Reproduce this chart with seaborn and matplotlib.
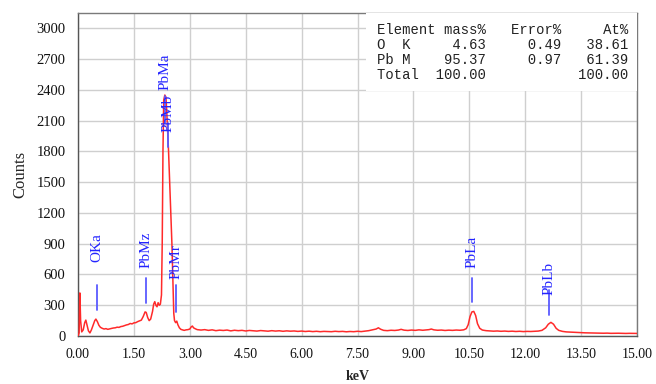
import numpy as np
import pandas as pd
import matplotlib
matplotlib.use("Agg")
import matplotlib.pyplot as plt
import seaborn as sns

# ---- spectrum data ----
energy_kev = [
    0.00, 0.03, 0.05, 0.07, 0.10, 0.14, 0.18, 0.21, 0.24, 0.28, 0.32, 0.36, 0.41, 0.45, 0.48,
    0.52, 0.56, 0.60, 0.65, 0.70, 0.75, 0.80, 0.85, 0.90, 0.95, 1.00, 1.05, 1.10, 1.15, 1.20,
    1.25, 1.30, 1.35, 1.40, 1.45, 1.50, 1.55, 1.60, 1.65, 1.70, 1.75, 1.80, 1.83, 1.87, 1.91,
    1.95, 2.00, 2.03, 2.06, 2.09, 2.12, 2.15, 2.18, 2.21, 2.24, 2.26, 2.28, 2.30, 2.33, 2.36,
    2.38, 2.41, 2.43, 2.46, 2.49, 2.52, 2.55, 2.57, 2.59, 2.62, 2.65, 2.68, 2.72, 2.76, 2.80,
    2.85, 2.90, 2.95, 3.00, 3.04, 3.07, 3.10, 3.15, 3.20, 3.30, 3.40, 3.50, 3.60, 3.70, 3.80,
    3.90, 4.00, 4.10, 4.20, 4.30, 4.40, 4.50, 4.60, 4.70, 4.80, 4.90, 5.00, 5.10, 5.20, 5.30,
    5.40, 5.50, 5.60, 5.70, 5.80, 5.90, 6.00, 6.10, 6.20, 6.30, 6.40, 6.50, 6.60, 6.70, 6.80,
    6.90, 7.00, 7.10, 7.20, 7.30, 7.40, 7.50, 7.60, 7.70, 7.80, 7.90, 8.00, 8.06, 8.12, 8.20,
    8.30, 8.40, 8.50, 8.60, 8.67, 8.75, 8.85, 8.95, 9.05, 9.15, 9.25, 9.35, 9.42, 9.48, 9.55,
    9.65, 9.75, 9.85, 9.95, 10.05, 10.15, 10.25, 10.35, 10.42, 10.47, 10.52, 10.57, 10.62, 10.67,
    10.72, 10.78, 10.85, 10.95, 11.05, 11.15, 11.25, 11.35, 11.45, 11.55, 11.65, 11.75, 11.85,
    11.95, 12.05, 12.15, 12.25, 12.35, 12.45, 12.55, 12.62, 12.69, 12.76, 12.83, 12.90, 13.00,
    13.10, 13.20, 13.30, 13.40, 13.50, 13.60, 13.70, 13.80, 13.90, 14.00, 14.10, 14.20, 14.30,
    14.40, 14.50, 14.60, 14.70, 14.80, 14.90, 15.00,
]
counts = [
    0, 30, 420, 150, 40, 60, 130, 155, 110, 50, 30, 60, 110, 150, 165,
    140, 105, 85, 75, 68, 72, 65, 70, 74, 78, 80, 86, 84, 92, 95,
    102, 108, 112, 122, 118, 128, 130, 140, 148, 155, 190, 235, 230, 180, 150,
    165, 240, 310, 335, 300, 285, 325, 300, 310, 400, 900, 1800, 2300, 2350, 2330,
    2200, 1950, 1800, 1500, 1200, 900, 500, 220, 150, 130, 145, 110, 80, 65, 60,
    55, 60, 62, 68, 90, 97, 80, 70, 62, 58, 62, 55, 60, 52, 57,
    54, 58, 50, 56, 52, 55, 49, 54, 51, 48, 53, 50, 47, 52, 48,
    51, 46, 50, 47, 49, 45, 48, 44, 47, 43, 46, 42, 45, 44, 42,
    46, 43, 45, 41, 44, 42, 46, 43, 48, 52, 60, 68, 80, 66, 55,
    52, 56, 54, 58, 65, 57, 54, 58, 55, 60, 56, 59, 62, 68, 60,
    56, 58, 54, 57, 55, 58, 56, 60, 72, 110, 190, 235, 240, 200,
    120, 75, 58, 52, 50, 47, 49, 46, 48, 45, 47, 44, 46,
    43, 45, 44, 46, 48, 55, 80, 115, 133, 115, 75, 55, 45,
    40, 38, 36, 34, 32, 31, 30, 29, 28, 28, 27, 28, 26,
    27, 27, 26, 25, 26, 25, 25,
]

# ---- peak labels ----
peak_names = ["OKa", "PbMz", "PbMa", "PbMb", "PbMr", "PbLa", "PbLb"]
peak_energy = [0.51, 1.83, 2.34, 2.42, 2.62, 10.56, 12.63]
label_base = [720, 660, 2400, 1990, 560, 665, 400]
marker_low = [255, 320, 2080, 1840, 235, 330, 205]
marker_high = [495, 565, 2340, 2075, 495, 565, 450]

# ---- quantification table ----
elements = ["O  K", "Pb M"]
mass_pct = [4.63, 95.37]
error_pct = [0.49, 0.97]
at_pct = [38.61, 61.39]

# ---- axes ----
x_ticks = [0.0, 1.5, 3.0, 4.5, 6.0, 7.5, 9.0, 10.5, 12.0, 13.5, 15.0]
y_ticks = [0, 300, 600, 900, 1200, 1500, 1800, 2100, 2400, 2700, 3000]

sns.set_style("white")
plt.rcParams["font.family"] = ["Liberation Serif", "DejaVu Serif"]

W, H = 656, 384
fig = plt.figure(figsize=(W / 100, H / 100), dpi=100)
ax = fig.add_axes([78 / W, (H - 336) / H, (637 - 78) / W, (336 - 13) / H])

df = pd.DataFrame({"keV": energy_kev, "Counts": counts})
sns.lineplot(data=df, x="keV", y="Counts", ax=ax, color="#ff2a2a", linewidth=1.1, zorder=3)

ax.set_xlim(0, 15)
ax.set_ylim(0, 3150)
ax.set_xticks(x_ticks)
ax.set_xticklabels([f"{v:.2f}" for v in x_ticks], fontsize=10)
ax.set_yticks(y_ticks)
ax.set_yticklabels([str(v) for v in y_ticks], fontsize=10.5)
ax.grid(True, color="#cfcfcf", linewidth=1.0, zorder=0)
ax.set_axisbelow(True)
ax.tick_params(axis="both", direction="out", length=6, width=1, color="#555555",
               labelcolor="#111111", pad=3)
for s in ax.spines.values():
    s.set_color("#7a7a7a")
    s.set_linewidth(1.0)
ax.spines["left"].set_color("#555555")
ax.spines["bottom"].set_color("#555555")

ax.set_xlabel("keV", fontsize=10, fontweight="bold", labelpad=6)
ax.set_ylabel("Counts", fontsize=12, labelpad=6)

# peak markers and labels
for name, e, base, lo, hi in zip(peak_names, peak_energy, label_base, marker_low, marker_high):
    ax.plot([e, e], [lo, hi], color="#5a5aff", linewidth=1.3, zorder=4)
    ax.text(e, base, name, rotation=90, ha="center", va="bottom", fontsize=11,
            color="#2323ff", zorder=5)

# table box (white area over the grid)
box = plt.Rectangle((366 / W, (H - 91) / H), (637 - 366) / W, (91 - 13) / H,
                    transform=fig.transFigure, facecolor="white", edgecolor="none", zorder=2)
fig.patches.append(box)

rows = ["Element mass%   Error%     At%"]
for el, m, er, a in zip(elements, mass_pct, error_pct, at_pct):
    rows.append(f"{el}{m:9.2f}{er:9.2f}{a:8.2f}")
rows.append(f"Total{sum(mass_pct):8.2f}{sum(at_pct):17.2f}")
row_y = [30, 45, 60, 75]
for r, py in zip(rows, row_y):
    fig.text(377 / W, (H - py) / H, r, family="Liberation Mono", fontsize=10,
             va="center", ha="left", color="#222222", zorder=6)

fig.savefig("out.png", dpi=100)
